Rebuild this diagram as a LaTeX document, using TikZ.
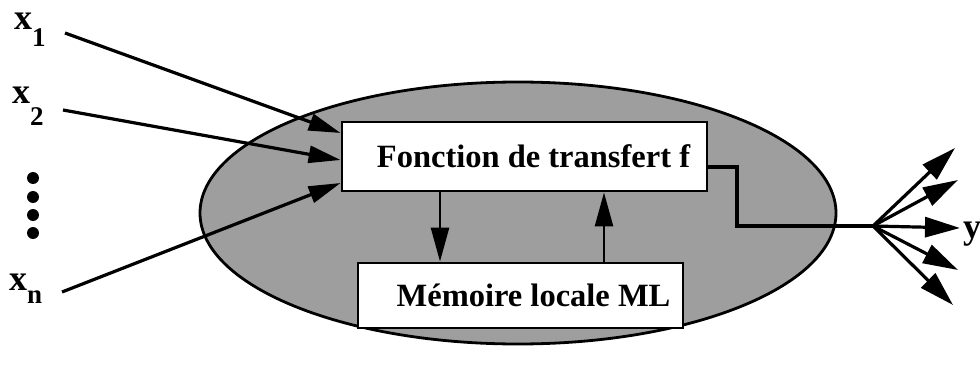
\documentclass[tikz,border=0pt]{standalone}
\usepackage{fontspec}
\setmainfont{Liberation Serif}
\usetikzlibrary{arrows.meta,shapes.geometric}

\begin{document}
\begin{tikzpicture}[x=1pt,y=-1pt,
  thick line/.style={line width=3.2pt},
  box/.style={draw, fill=white, line width=2.8pt, inner sep=0pt,
    font=\fontsize{32.5}{32.5}\selectfont\bfseries},
  lbl/.style={inner sep=0pt, font=\fontsize{36}{36}\selectfont\bfseries},
  in arrow/.style={thick line, -{Triangle[length=32pt,width=17pt]}},
  inner arrow/.style={line width=2.6pt, -{Triangle[length=34pt,width=18pt]}},
  out arrow/.style={thick line, -{Triangle[length=35pt,width=20pt]}},
  dot/.style={circle, fill=black, inner sep=0pt, minimum size=12pt}]
\useasboundingbox (0,0) rectangle (980,369);

% neuron body
\node[ellipse, draw, line width=2.8pt, fill=black!38, inner sep=0pt,
      minimum width=636pt, minimum height=262pt] (cell) at (518,213) {};

% inner blocks
\node[box, minimum width=365pt, minimum height=69pt] (f) at (524.5,156.5)
  {\hspace*{18pt}Fonction de transfert f};
\node[box, minimum width=325pt, minimum height=65pt] (ml) at (520.5,295.5)
  {\hspace*{26pt}Mémoire locale ML};

% inputs
\node[lbl, anchor=base west] (x1) at (14,30)
  {x\raisebox{-17pt}{\fontsize{27}{27}\selectfont 1}};
\node[lbl, anchor=base west] (x2) at (12,103)
  {x\raisebox{-22pt}{\fontsize{27}{27}\selectfont 2}};
\node[lbl, anchor=base west] (xn) at (9,290)
  {x\raisebox{-13pt}{\fontsize{27}{27}\selectfont n}};

\node[dot] (d1) at (33,178) {};
\node[dot] (d2) at (33,197) {};
\node[dot] (d3) at (33,215) {};
\node[dot] (d4) at (33,233) {};

\coordinate (s1) at (65,33);
\coordinate (s2) at (63,110);
\coordinate (sn) at (62,292);
\draw[in arrow] (s1) -- (f.west |- 0,133);
\draw[in arrow] (s2) -- (f.west |- 0,160);
\draw[in arrow] (sn) -- (f.west |- 0,183);

% exchange with the local memory
\coordinate (dn) at (440,0);
\coordinate (up) at (604,0);
\draw[inner arrow] (f.south -| dn) -- (ml.north -| dn);
\draw[inner arrow] (ml.north -| up) -- (f.south -| up);

% output and fan-out
\coordinate (bend) at (737,167);
\coordinate (fan) at (873,226);
\draw[thick line] (f.east |- bend) -- (bend) |- (fan);
\coordinate (o1) at (955,148);
\coordinate (o2) at (958,180);
\coordinate (o3) at (960,228);
\coordinate (o4) at (958,270);
\coordinate (o5) at (953,305);
\foreach \t in {o1,o2,o3,o4,o5} \draw[out arrow] (fan) -- (\t);
\node[lbl, anchor=base west] (y) at (963,238) {y};
\end{tikzpicture}
\end{document}
